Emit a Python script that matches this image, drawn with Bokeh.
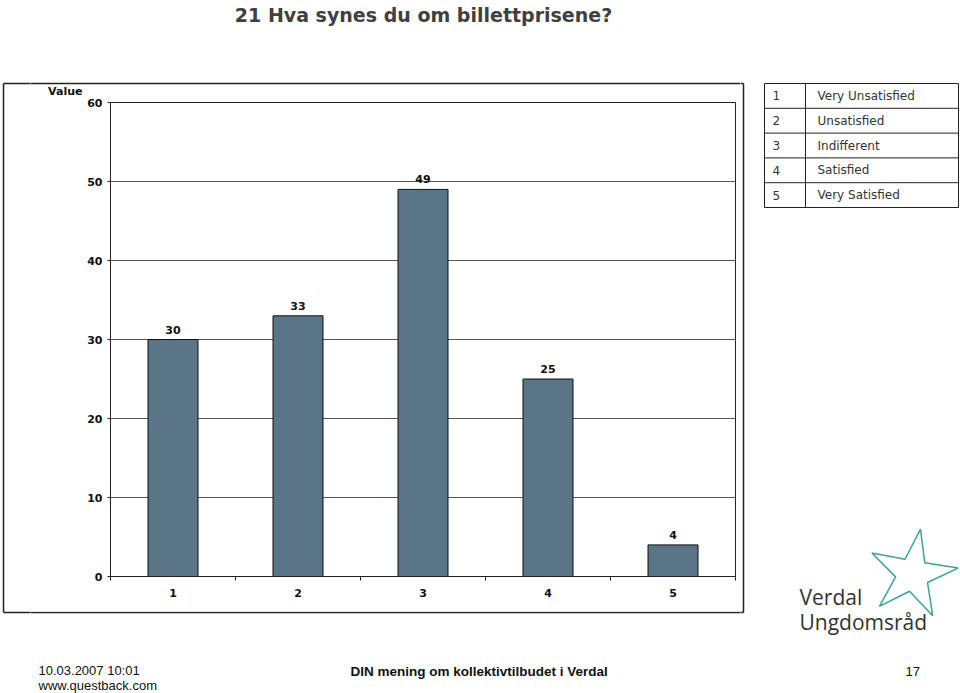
import numpy as np
from bokeh.plotting import figure
from bokeh.layouts import row, column
from bokeh.models import Range1d, LabelSet, FixedTicker, ColumnDataSource
from bokeh.core.properties import value
from bokeh.embed import file_html
from bokeh.resources import INLINE

# ---- data ----
title_text = "21 Hva synes du om billettprisene?"
categories = ["1", "2", "3", "4", "5"]
values = [30, 33, 49, 25, 4]
y_ticks = [0, 10, 20, 30, 40, 50, 60]
legend_nums = ["1", "2", "3", "4", "5"]
legend_labels = ["Very Unsatisfied", "Unsatisfied", "Indifferent", "Satisfied", "Very Satisfied"]
y_axis_name = "Value"
footer_date = "10.03.2007 10:01"
footer_site = "www.questback.com"
footer_title = "DIN mening om kollektivtilbudet i Verdal"
footer_page = "17"
logo_lines = ["Verdal", "Ungdomsråd"]

# ---- layout constants (page pixels) ----
W, H = 960, 693
LEFT_X = 30             # left strip / middle column
SPLIT_X = 740           # middle column / right part
TOP_Y, BOT_Y = 97, 611  # chart figure between these
FL, FR, FT, FB = 110, 735, 102, 576  # plot frame
BOX = (3, 743, 83, 612)  # outer chart box: left, right, top, bottom
CHART_FONT = "DejaVu Sans"
FOOT_FONT = "Liberation Sans"
BAR_COLOR = "#5A7587"
LINE_C = "#222222"


def deco_fig(xa, xb, ya, yb):
    f = figure(width=xb - xa, height=yb - ya, x_range=Range1d(xa, xb), y_range=Range1d(yb, ya),
               output_backend="svg", toolbar_location=None,
               x_axis_location=None, y_axis_location=None, min_border=0)
    f.xgrid.visible = False
    f.ygrid.visible = False
    f.outline_line_color = None
    f.background_fill_color = "white"
    f.border_fill_color = "white"
    return f


def box_edges(f):
    l, r, t, b = BOX
    f.segment(x0=[l, l, r, l], y0=[t, t, t, b], x1=[r, l, r, r], y1=[t, b, b, b],
              line_color=LINE_C, line_width=1.5)


# ---------- left strip (full height) ----------
LS = deco_fig(0, LEFT_X, 0, H)
box_edges(LS)

# ---------- top figure: title + "Value" ----------
T = deco_fig(LEFT_X, SPLIT_X, 0, TOP_Y)
box_edges(T)
T.text(x=[423], y=[14], text=[title_text], text_align="center", text_baseline="middle",
       text_font=value(CHART_FONT), text_font_style="bold", text_font_size="19px",
       text_color="#404040")
T.text(x=[82], y=[91], text=[y_axis_name], text_align="right", text_baseline="middle",
       text_font=value(CHART_FONT), text_font_style="bold", text_font_size="11px",
       text_color="#111111")

# ---------- chart ----------
xpos = [i + 1 for i in range(len(categories))]
x0, x1 = 0.5, len(categories) + 0.5
C = figure(width=SPLIT_X - LEFT_X, height=BOT_Y - TOP_Y,
           x_range=Range1d(x0, x1), y_range=Range1d(y_ticks[0], y_ticks[-1]),
           output_backend="svg", toolbar_location=None,
           min_border_left=FL - LEFT_X, min_border_right=SPLIT_X - FR,
           min_border_top=FT - TOP_Y, min_border_bottom=BOT_Y - FB)
C.background_fill_color = "white"
C.border_fill_color = "white"
C.outline_line_color = LINE_C
C.outline_line_width = 1

src = ColumnDataSource(dict(x=xpos, top=values, lab=[str(v) for v in values]))
C.vbar(x="x", top="top", width=0.4, source=src, fill_color=BAR_COLOR,
       line_color="#111111", line_width=1)
C.add_layout(LabelSet(x="x", y="top", text="lab", source=src, text_align="center",
                      text_baseline="bottom", y_offset=6, text_font=value(CHART_FONT),
                      text_font_style="bold", text_font_size="11px", text_color="#111111"))

xa = C.xaxis[0]
xa.ticker = FixedTicker(ticks=xpos, minor_ticks=[x0 + i for i in range(len(categories) + 1)])
xa.major_label_overrides = {xp: c for xp, c in zip(xpos, categories)}
xa.major_tick_out = 0
xa.major_tick_in = 0
xa.minor_tick_out = 4
xa.minor_tick_in = 0
xa.major_label_standoff = 8
xa.major_label_text_font = CHART_FONT
xa.major_label_text_font_style = "bold"
xa.major_label_text_font_size = "11px"
xa.major_label_text_color = "#111111"
xa.axis_line_color = LINE_C
xa.minor_tick_line_color = LINE_C

ya = C.yaxis[0]
ya.ticker = FixedTicker(ticks=y_ticks, minor_ticks=[])
ya.major_tick_out = 3
ya.major_tick_in = 0
ya.minor_tick_out = 0
ya.minor_tick_in = 0
ya.major_label_standoff = 5
ya.major_label_text_font = CHART_FONT
ya.major_label_text_font_style = "bold"
ya.major_label_text_font_size = "11px"
ya.major_label_text_color = "#111111"
ya.axis_line_color = LINE_C
ya.major_tick_line_color = LINE_C

C.xgrid.visible = False
C.ygrid.ticker = FixedTicker(ticks=y_ticks)
C.ygrid.grid_line_color = "#555555"
C.ygrid.grid_line_width = 1

# ---------- bottom figure: box bottom + footer ----------
B = deco_fig(LEFT_X, SPLIT_X, BOT_Y, H)
box_edges(B)
B.text(x=[38, 38], y=[670, 685], text=[footer_date, footer_site], text_align="left",
       text_baseline="middle", text_font=value(FOOT_FONT), text_font_size="13px",
       text_color="#111111")
B.text(x=[350], y=[671], text=[footer_title], text_align="left", text_baseline="middle",
       text_font=value(FOOT_FONT), text_font_style="bold", text_font_size="13.5px",
       text_color="#111111")

# ---------- right figure: box right edge, legend table, logo, page number ----------
RF = deco_fig(SPLIT_X, W, 0, H)
box_edges(RF)
TL, TR, TT, TB, TD = 764, 958, 83, 207, 805
row_h = (TB - TT) / len(legend_labels)
hy = [TT + i * row_h for i in range(len(legend_labels) + 1)]
RF.segment(x0=[TL] * len(hy), x1=[TR] * len(hy), y0=hy, y1=hy, line_color=LINE_C, line_width=1)
RF.segment(x0=[TL, TD, TR], x1=[TL, TD, TR], y0=[TT] * 3, y1=[TB] * 3,
           line_color=LINE_C, line_width=1)
yc = [TT + (i + 0.5) * row_h for i in range(len(legend_labels))]
RF.text(x=[772] * len(legend_nums), y=yc, text=legend_nums, text_align="left",
        text_baseline="middle", text_font=value(CHART_FONT), text_font_size="12px",
        text_color="#333333")
RF.text(x=[817] * len(legend_labels), y=yc, text=legend_labels, text_align="left",
        text_baseline="middle", text_font=value(CHART_FONT), text_font_size="12px",
        text_color="#333333")
RF.text(x=[905], y=[671], text=[footer_page], text_align="left", text_baseline="middle",
        text_font=value(FOOT_FONT), text_font_size="13px", text_color="#111111")

RF.text(x=[799, 799], y=[596, 621], text=logo_lines, text_align="left",
        text_baseline="alphabetic", text_font=value("Open Sans"),
        text_font_size="21px", text_color="#333333")
cx, cy, ro, ri = 912, 574, 46, 17
ang = np.deg2rad(-80 + np.arange(10) * 36)
rad = np.where(np.arange(10) % 2 == 0, ro, ri)
RF.patch(x=cx + rad * np.cos(ang), y=cy + rad * np.sin(ang), fill_color=None,
         line_color="#3FA393", line_width=1.5)

layout = row(LS, column(T, row(C), B), RF)
open("out.html", "w").write(file_html(layout, INLINE))
